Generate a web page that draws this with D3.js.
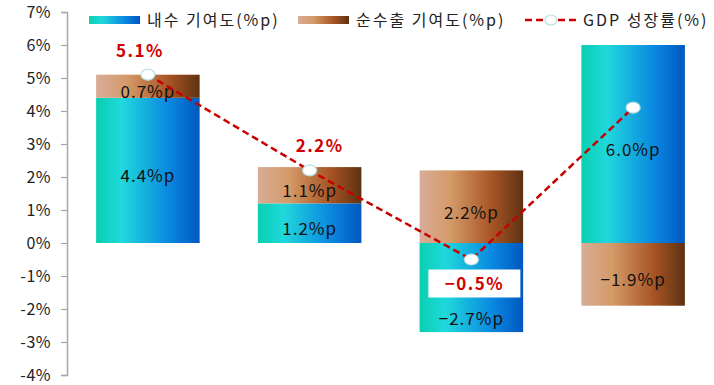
<!doctype html>
<html>
<head>
<meta charset="utf8">
<title>GDP 성장 기여도</title>
<script src="https://cdn.jsdelivr.net/npm/d3@7/dist/d3.min.js"></script>
<style>
  body { margin: 0; background: #fff; }
  svg text { font-family: "Noto Sans CJK KR", "Noto Sans", sans-serif; }
</style>
</head>
<body>
<div id="board"></div>
<script>
"use strict";
// data
const periods = ["p1", "p2", "p3", "p4"];
const domestic = [4.4, 1.2, -2.7, 6.0];   // 내수 기여도(%p)
const netExport = [0.7, 1.1, 2.2, -1.9];  // 순수출 기여도(%p)
const gdp = [5.1, 2.2, -0.5, 4.1];        // GDP 성장률(%)
const gdpLabels = ["5.1%", "2.2%", "−0.5%", null];
const yTicks = [-4, -3, -2, -1, 0, 1, 2, 3, 4, 5, 6, 7];
const seriesNames = ["내수 기여도(%p)", "순수출 기여도(%p)", "GDP 성장률(%)"];

const W = 714, H = 385;
const svg = d3.select("#board").append("svg").attr("width", W).attr("height", H);

const x = d3.scaleBand().domain(periods).range([67, 714]).paddingInner(0.36).paddingOuter(0.18);
const y = d3.scaleLinear().domain([-4, 7]).range([375, 12]);

const defs = svg.append("defs");
function grad(id, stops) {
    const g = defs.append("linearGradient").attr("id", id)
        .attr("x1", "0%").attr("x2", "100%").attr("y1", "0%").attr("y2", "0%");
    stops.forEach(s => g.append("stop").attr("offset", s[0]).attr("stop-color", s[1]));
}
grad("gBlue", [["0%", "#08d0b0"], ["25%", "#20d8dc"], ["70%", "#0a88e0"], ["100%", "#0058c0"]]);
grad("gBrown", [["0%", "#d8ac98"], ["30%", "#d49a68"], ["70%", "#a85424"], ["100%", "#5e3212"]]);

// axis
const yAxis = d3.axisLeft(y).tickValues(yTicks).tickSize(6).tickPadding(10).tickFormat(d => d + "%");
const ax = svg.append("g").attr("transform", "translate(67,0)").call(yAxis);
ax.select(".domain").attr("stroke", "#a6a6a6").attr("stroke-width", 1.5);
ax.selectAll(".tick line").attr("stroke", "#a6a6a6").attr("stroke-width", 1.2);
ax.selectAll(".tick text").attr("font-size", 16).attr("fill", "#222").attr("letter-spacing", 0.5)
    .style("font-family", "'Noto Sans CJK KR', sans-serif");

// stacked segments: positive stack up, negatives down
const segs = [];
periods.forEach((p, i) => {
    let pos = 0, neg = 0;
    [[domestic[i], "gBlue"], [netExport[i], "gBrown"]].forEach(([v, fill]) => {
        let y0, y1;
        if (v >= 0) { y0 = pos; y1 = pos + v; pos = y1; }
        else { y0 = neg; y1 = neg + v; neg = y1; }
        segs.push({ p, i, v, fill, y0, y1 });
    });
});

const barG = svg.append("g");
barG.selectAll("rect").data(segs).enter().append("rect")
    .attr("x", d => x(d.p))
    .attr("width", x.bandwidth())
    .attr("y", d => y(Math.max(d.y0, d.y1)))
    .attr("height", d => Math.abs(y(d.y0) - y(d.y1)))
    .attr("fill", d => "url(#" + d.fill + ")");

// GDP line
const cx = p => x(p) + x.bandwidth() / 2;
const line = d3.line().x((d, i) => cx(periods[i])).y(d => y(d));
svg.append("path").datum(gdp).attr("d", line)
    .attr("fill", "none").attr("stroke", "#c80000").attr("stroke-width", 2.5)
    .attr("stroke-dasharray", "7,4");
svg.selectAll("ellipse.pt").data(gdp).enter().append("ellipse").attr("class", "pt")
    .attr("cx", (d, i) => cx(periods[i])).attr("cy", d => y(d))
    .attr("rx", 7).attr("ry", 5.5)
    .attr("fill", "#fff").attr("stroke", "#b6dce4").attr("stroke-width", 1.2);

// GDP labels
const boxes = [];
gdp.forEach((v, i) => {
    if (!gdpLabels[i]) return;
    const px = cx(periods[i]);
    let tx, ty;
    if (v < 0) {
        const bw = 92, bh = 28, by = y(v) + 10;
        svg.append("rect").attr("x", px - bw / 2 + 3).attr("y", by).attr("width", bw).attr("height", bh).attr("fill", "#fff");
        boxes[i] = by + bh;
        tx = px + 3; ty = by + bh / 2 + 6;
    } else {
        tx = px + (i === 0 ? -8 : 10); ty = y(v) - 18;
    }
    svg.append("text").attr("x", tx).attr("y", ty)
        .attr("text-anchor", "middle").attr("font-size", 17).attr("font-weight", "bold")
        .attr("letter-spacing", 1.5).attr("fill", "#d00000").text(gdpLabels[i]);
});

// segment labels
barG.selectAll("text").data(segs).enter().append("text")
    .attr("x", d => cx(d.p))
    .attr("y", d => {
        let mid = (y(d.y0) + y(d.y1)) / 2 + 6;
        if (boxes[d.i] && boxes[d.i] > Math.min(y(d.y0), y(d.y1)) && boxes[d.i] < Math.max(y(d.y0), y(d.y1)))
            mid = (boxes[d.i] + Math.max(y(d.y0), y(d.y1))) / 2 + 4;
        return mid + 6;
    })
    .attr("text-anchor", "middle").attr("font-size", 17).attr("letter-spacing", 1)
    .attr("fill", "#111")
    .text(d => d.v.toFixed(1).replace("-", "−") + "%p");

// legend
const leg = svg.append("g");
const legX = [89, 298, 525];
leg.append("rect").attr("x", legX[0]).attr("y", 16).attr("width", 51).attr("height", 8).attr("fill", "url(#gBlue)");
leg.append("rect").attr("x", legX[1]).attr("y", 16).attr("width", 51).attr("height", 8).attr("fill", "url(#gBrown)");
leg.append("line").attr("x1", legX[2]).attr("x2", legX[2] + 52).attr("y1", 20).attr("y2", 20)
    .attr("stroke", "#c80000").attr("stroke-width", 2.5).attr("stroke-dasharray", "7,4");
leg.append("ellipse").attr("cx", legX[2] + 26).attr("cy", 20).attr("rx", 6).attr("ry", 5)
    .attr("fill", "#fff").attr("stroke", "#b6dce4").attr("stroke-width", 1.2);
seriesNames.forEach((n, i) => {
    leg.append("text").attr("x", legX[i] + 58).attr("y", 26).attr("font-size", 16)
        .attr("letter-spacing", 2).attr("fill", "#222").text(n);
});
</script>
</body>
</html>
